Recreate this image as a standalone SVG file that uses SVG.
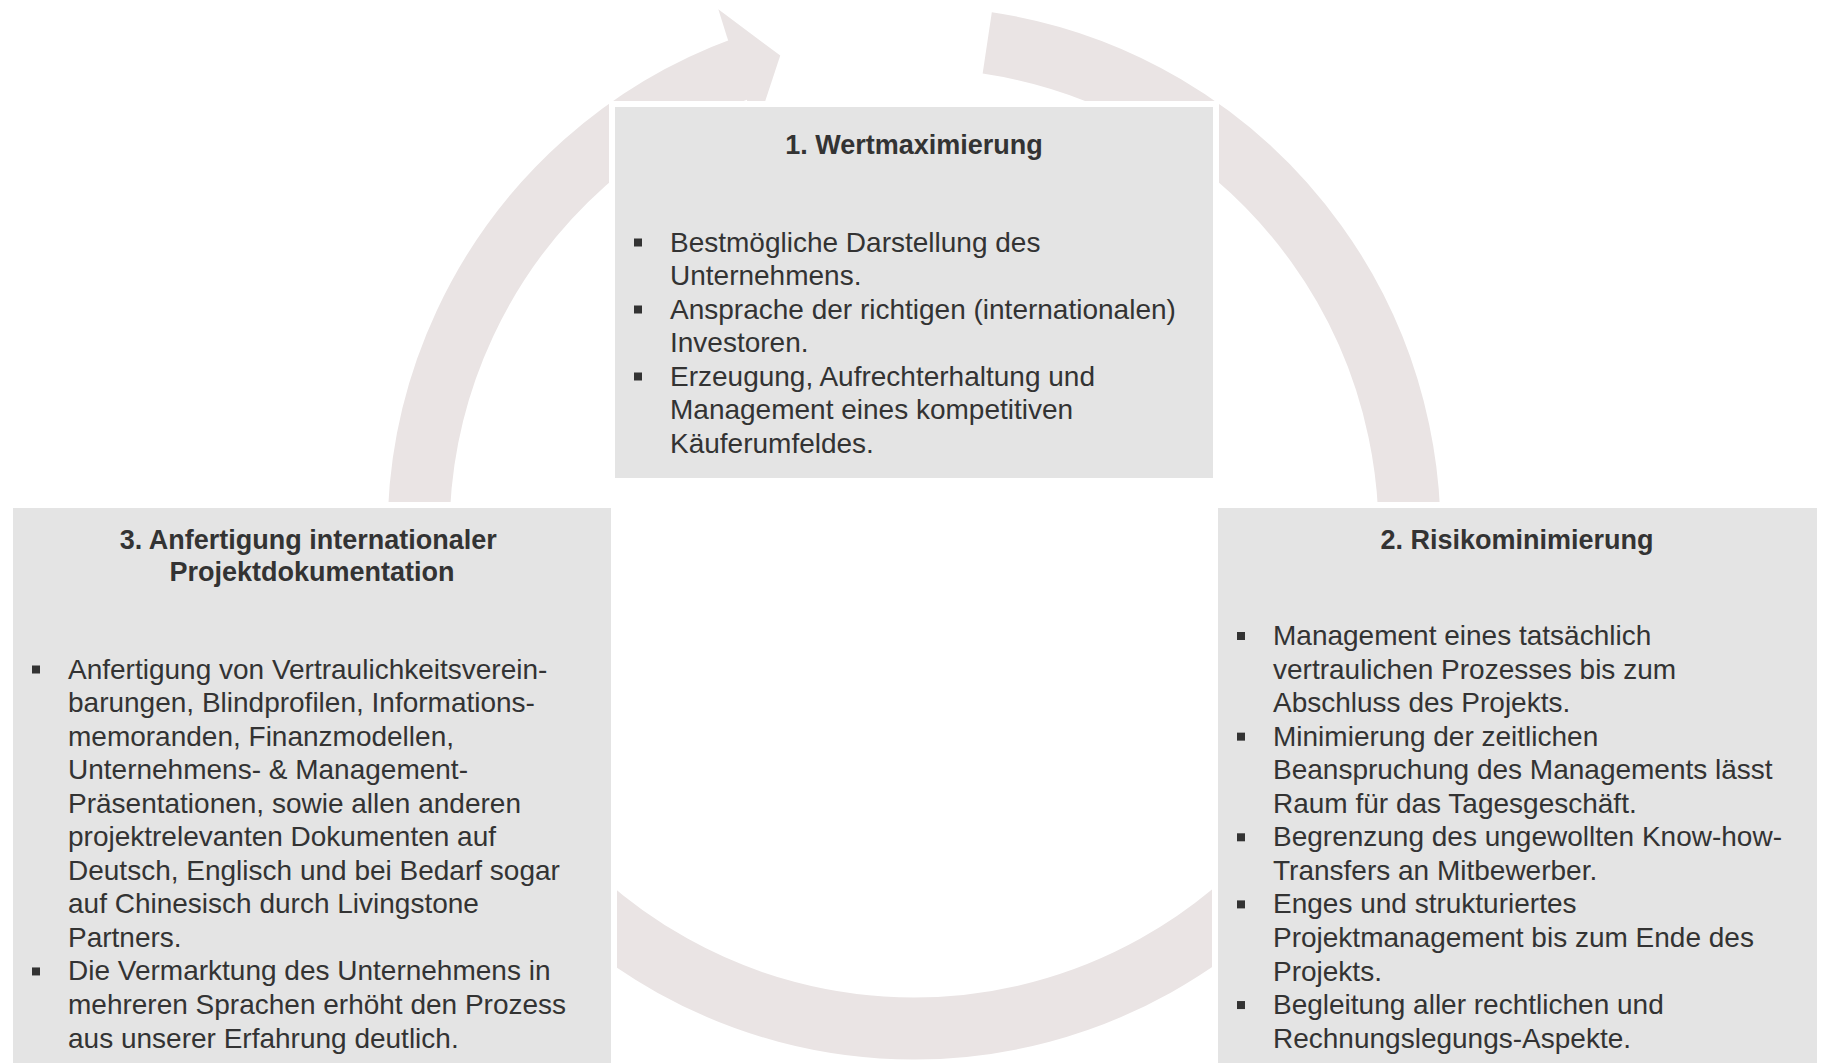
<svg xmlns="http://www.w3.org/2000/svg" width="1821" height="1063" viewBox="0 0 1821 1063">
<style>
.ring{fill:none;stroke:#EAE4E4;stroke-width:62;stroke-linecap:butt}
.head{fill:#EAE4E4}
.box{fill:#E4E4E4;stroke:#FFFFFF;stroke-width:12;paint-order:stroke fill}
.title{font-family:"Liberation Sans",Arial,sans-serif;font-size:27px;font-weight:bold;fill:#333333;text-anchor:middle}
.body{font-family:"Liberation Sans",Arial,sans-serif;font-size:28px;fill:#333333}
.bul{fill:#333333}
</style>
<rect width="1821" height="1063" fill="#FFFFFF"/>
<g id="connectors">
  <path class="ring" d="M 448.38 702.47 A 495.5 495.5 0 0 1 744.53 67.38"/>
  <polygon class="head" points="718.3,9.3 780.25,55.5 756,129"/>
  <path class="ring" d="M 987.24 42.94 A 495.5 495.5 0 0 1 1401.97 619.04"/>
  <path class="ring" d="M 1319.89 817.21 A 495.5 495.5 0 0 1 508.11 817.21"/>
</g>
<g id="node1">
  <rect class="box" x="615" y="107" width="598" height="371"/>
  <text class="title" x="914" y="154">1. Wertmaximierung</text>
  <rect class="bul" x="634" y="238.5" width="8" height="8"/>
  <rect class="bul" x="634" y="305.5" width="8" height="8"/>
  <rect class="bul" x="634" y="372.5" width="8" height="8"/>
  <text class="body">
    <tspan x="670" y="251.5">Bestmögliche Darstellung des</tspan>
    <tspan x="670" y="285">Unternehmens.</tspan>
    <tspan x="670" y="318.5">Ansprache der richtigen (internationalen)</tspan>
    <tspan x="670" y="352">Investoren.</tspan>
    <tspan x="670" y="385.5">Erzeugung, Aufrechterhaltung und</tspan>
    <tspan x="670" y="419">Management eines kompetitiven</tspan>
    <tspan x="670" y="452.5">Käuferumfeldes.</tspan>
  </text>
</g>
<g id="node2">
  <rect class="box" x="1218" y="508" width="599" height="560"/>
  <text class="title" x="1517" y="549">2. Risikominimierung</text>
  <rect class="bul" x="1237" y="632" width="8" height="8"/>
  <rect class="bul" x="1237" y="732.65" width="8" height="8"/>
  <rect class="bul" x="1237" y="833.3" width="8" height="8"/>
  <rect class="bul" x="1237" y="900.4" width="8" height="8"/>
  <rect class="bul" x="1237" y="1001.05" width="8" height="8"/>
  <text class="body">
    <tspan x="1273" y="645">Management eines tatsächlich</tspan>
    <tspan x="1273" y="678.55">vertraulichen Prozesses bis zum</tspan>
    <tspan x="1273" y="712.1">Abschluss des Projekts.</tspan>
    <tspan x="1273" y="745.65">Minimierung der zeitlichen</tspan>
    <tspan x="1273" y="779.2">Beanspruchung des Managements lässt</tspan>
    <tspan x="1273" y="812.75">Raum für das Tagesgeschäft.</tspan>
    <tspan x="1273" y="846.3">Begrenzung des ungewollten Know-how-</tspan>
    <tspan x="1273" y="879.85">Transfers an Mitbewerber.</tspan>
    <tspan x="1273" y="913.4">Enges und strukturiertes</tspan>
    <tspan x="1273" y="946.95">Projektmanagement bis zum Ende des</tspan>
    <tspan x="1273" y="980.5">Projekts.</tspan>
    <tspan x="1273" y="1014.05">Begleitung aller rechtlichen und</tspan>
    <tspan x="1273" y="1047.6">Rechnungslegungs-Aspekte.</tspan>
  </text>
</g>
<g id="node3">
  <rect class="box" x="13" y="508" width="598" height="560"/>
  <text class="title">
    <tspan x="312" y="549">3. Anfertigung internationaler</tspan>
    <tspan x="312" y="581">Projektdokumentation</tspan>
  </text>
  <rect class="bul" x="32" y="665.5" width="8" height="8"/>
  <rect class="bul" x="32" y="967.45" width="8" height="8"/>
  <text class="body">
    <tspan x="68" y="678.5">Anfertigung von Vertraulichkeitsverein-</tspan>
    <tspan x="68" y="712.05">barungen, Blindprofilen, Informations-</tspan>
    <tspan x="68" y="745.6">memoranden, Finanzmodellen,</tspan>
    <tspan x="68" y="779.15">Unternehmens- &amp; Management-</tspan>
    <tspan x="68" y="812.7">Präsentationen, sowie allen anderen</tspan>
    <tspan x="68" y="846.25">projektrelevanten Dokumenten auf</tspan>
    <tspan x="68" y="879.8">Deutsch, Englisch und bei Bedarf sogar</tspan>
    <tspan x="68" y="913.35">auf Chinesisch durch Livingstone</tspan>
    <tspan x="68" y="946.9">Partners.</tspan>
    <tspan x="68" y="980.45">Die Vermarktung des Unternehmens in</tspan>
    <tspan x="68" y="1014">mehreren Sprachen erhöht den Prozess</tspan>
    <tspan x="68" y="1047.55">aus unserer Erfahrung deutlich.</tspan>
  </text>
</g>
</svg>
